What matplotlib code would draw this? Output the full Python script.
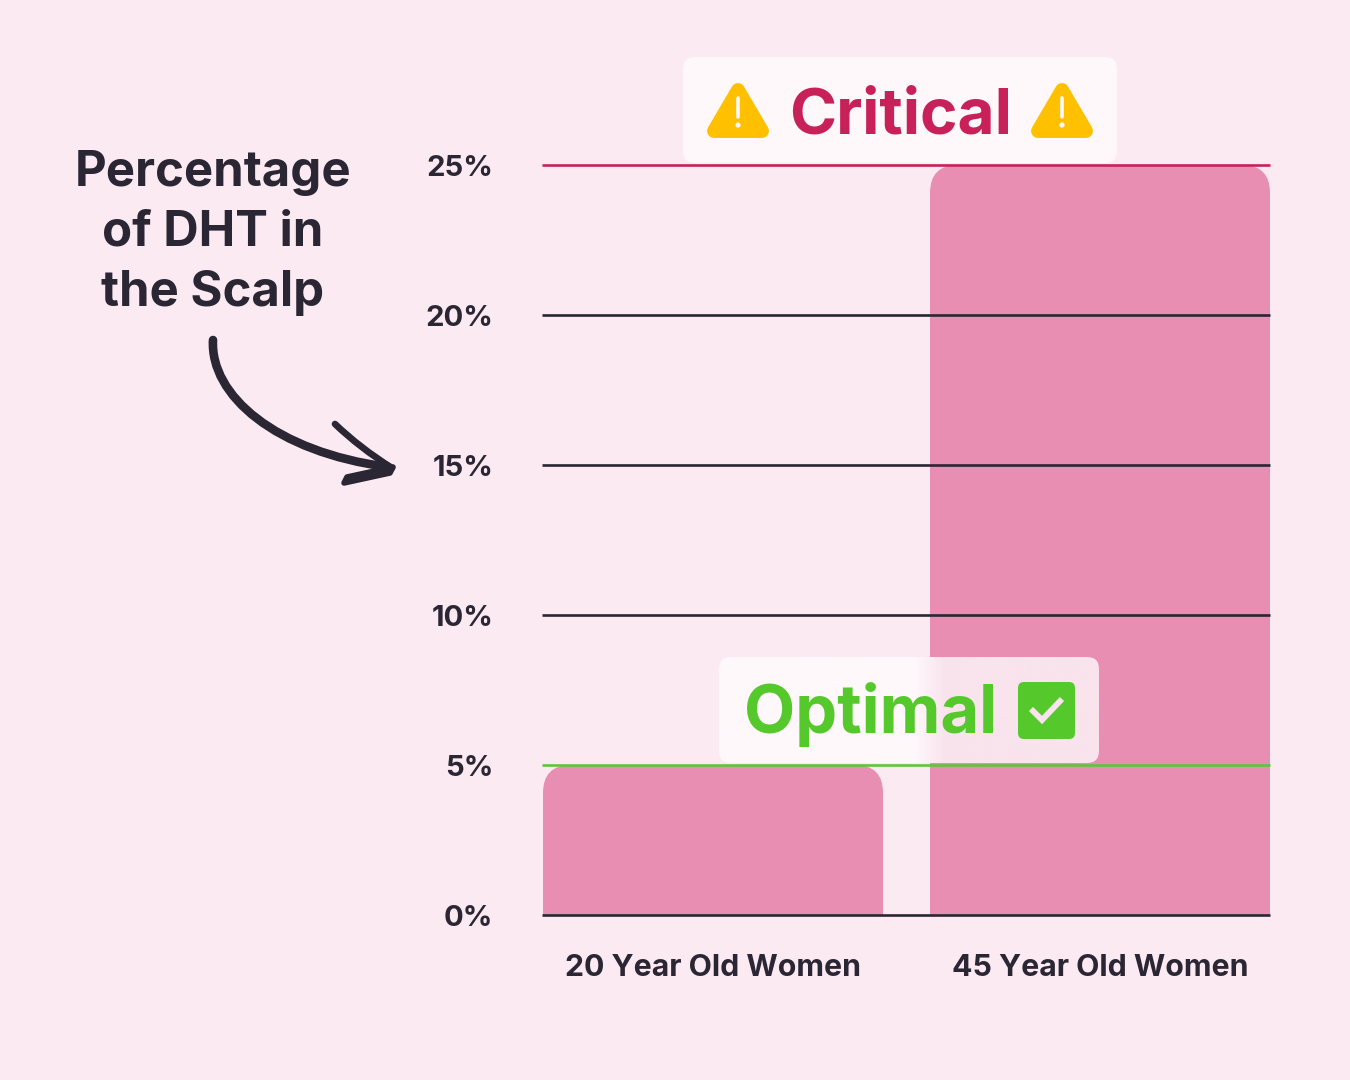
import numpy as np
import matplotlib
matplotlib.use('Agg')
import matplotlib.pyplot as plt
from matplotlib.patches import FancyBboxPatch, PathPatch, Polygon, Circle
from matplotlib.path import Path
from matplotlib.colors import to_rgb

# DATA
categories = ['20 Year Old Women', '45 Year Old Women']
values = [5, 25]
y_ticks = [0, 5, 10, 15, 20, 25]
y_labels = ['0%', '5%', '10%', '15%', '20%', '25%']
title_lines = ['Percentage', 'of DHT in', 'the Scalp']

# COLORS
BG = '#fceaf2'
BAR = '#e78eb2'
DARK = '#2a2633'
RED = '#c8215a'
GREEN = '#55c92c'
YELLOW = '#ffc000'
FONT = 'Inter'

plt.rcParams['font.family'] = [FONT, 'DejaVu Sans']
W, H = 1350, 1080
fig = plt.figure(figsize=(W / 100, H / 100), dpi=100, facecolor=BG)

# main chart, x axis is in pixel like units so bar sizes are easy
ax = fig.add_axes([542 / W, (H - 915) / H, 728 / W, 750 / H])
ax.set_facecolor('none')
ax.set_xlim(542, 1270)
ax.set_ylim(0, 25)
x_pos = [713, 1100]
bar_w = 340
r_x = 28
r_y = r_x * 25 / 750


def rounded_bar(xc, h):
    x0, x1 = xc - bar_w / 2, xc + bar_w / 2
    verts = [(x0, 0), (x0, h - r_y), (x0, h), (x0 + r_x, h), (x1 - r_x, h), (x1, h), (x1, h - r_y), (x1, 0), (x0, 0)]
    codes = [Path.MOVETO, Path.LINETO, Path.CURVE3, Path.CURVE3, Path.LINETO, Path.CURVE3, Path.CURVE3, Path.LINETO, Path.CLOSEPOLY]
    return Path(verts, codes)


for xc, v in zip(x_pos, values):
    ax.add_patch(PathPatch(rounded_bar(xc, v), fc=BAR, ec='none', zorder=2))

line_colors = {5: '#5fc63a', 25: RED}
for t in y_ticks:
    ax.plot([542, 1270], [t, t], color=line_colors.get(t, DARK), lw=1.9, zorder=3,
            clip_on=False, solid_capstyle='butt')

ax.set_yticks(y_ticks)
ax.set_yticklabels(y_labels, fontsize=21, fontweight='bold', color=DARK)
ax.set_xticks(x_pos)
ax.set_xticklabels(categories, fontsize=21.8, fontweight='bold', color=DARK)
ax.tick_params(axis='y', length=0, pad=35)
ax.tick_params(axis='x', length=0, pad=28)
for s in ax.spines.values():
    s.set_visible(False)

# overlay in image pixels for the callouts
ov = fig.add_axes([0, 0, 1, 1], zorder=5)
ov.set_xlim(0, W)
ov.set_ylim(H, 0)
ov.axis('off')
ov.patch.set_alpha(0)


def box(x0, y0, x1, y1, fc='#fff8fb', rad=12):
    b = FancyBboxPatch((x0 + rad, y0 + rad), x1 - x0 - 2 * rad, y1 - y0 - 2 * rad,
                       boxstyle='round,pad=%d,rounding_size=%d' % (rad, rad), fc=fc, ec='none')
    ov.add_patch(b)
    return b


def warning(cx):
    ov.add_patch(Polygon([(cx, 90), (cx + 24, 131), (cx - 24, 131)], closed=True, fc=YELLOW, ec=YELLOW,
                         lw=10, joinstyle='round'))
    ov.plot([cx, cx], [98, 117], color='#fff8fb', lw=2.6, solid_capstyle='round')
    ov.add_patch(Circle((cx, 125), 2.6, fc='#fff8fb', ec='none'))


# Critical
box(683, 57, 1117, 163)
warning(738)
warning(1062)
ov.text(901, 133, 'Critical', color=RED, fontsize=46, fontweight='bold', ha='center', va='baseline')

# Optimal, box fades where it sits over the tall bar
b = box(719, 657, 1099, 763, fc='none')
left, right = np.array(to_rgb('#fff8fb')), np.array(to_rgb('#f9e3ec'))
xs = np.linspace(719, 1099, 381)
mix = np.clip((xs - 915) / 30, 0, 1)[None, :, None]
grad = left[None, None, :] * (1 - mix) + right[None, None, :] * mix
im = ov.imshow(grad, extent=(719, 1099, 763, 657), aspect='auto', zorder=1)
im.set_clip_path(b)
ov.set_xlim(0, W)
ov.set_ylim(H, 0)
ov.text(871, 733, 'Optimal', color=GREEN, fontsize=48, fontweight='bold', ha='center', va='baseline', zorder=2)
box(1018, 682, 1075, 739, fc=GREEN, rad=6).set_zorder(2)
ov.plot([1031, 1042, 1062], [709, 720, 699], color='#f9e3ec', lw=4.2, zorder=3, solid_capstyle='butt',
        solid_joinstyle='miter')

# side title and hand drawn arrow
for line, y in zip(title_lines, [186, 246, 306]):
    ov.text(213, y, line, color=DARK, fontsize=35.3, fontweight='bold', ha='center', va='baseline')
shaft = Path([(213, 340), (210, 395), (275, 452), (388, 467)], [Path.MOVETO, Path.CURVE4, Path.CURVE4, Path.CURVE4])
ov.add_patch(PathPatch(shaft, fc='none', ec=DARK, lw=6.2, capstyle='round', snap=False))
ov.add_patch(PathPatch(Path([(335, 424), (360, 448), (392, 468)], [Path.MOVETO, Path.CURVE3, Path.CURVE3]),
                       fc='none', ec=DARK, lw=4.8, capstyle='round', snap=False))
ov.add_patch(Polygon([(393, 467), (347, 477), (344, 483), (390, 473)], closed=True, fc=DARK, ec=DARK, lw=4,
                     joinstyle='round'))

fig.savefig('out.png', dpi=100, facecolor=BG)
